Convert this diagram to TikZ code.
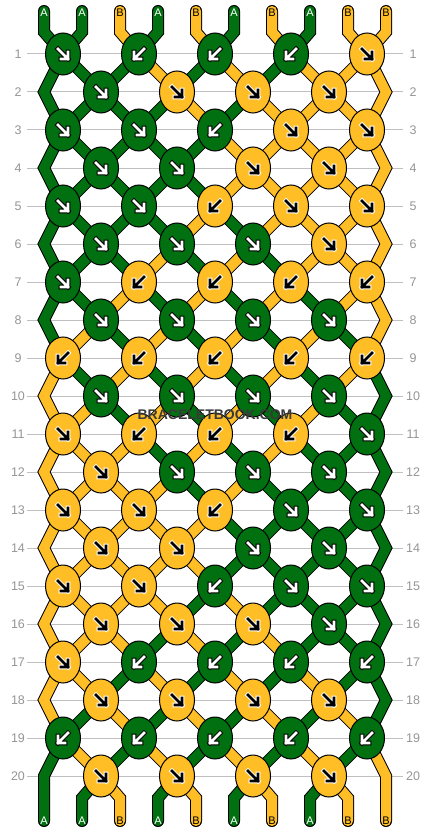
\documentclass[tikz,border=0pt]{standalone}
\usepackage{fontspec}
\setmainfont{Liberation Sans}
\usetikzlibrary{shapes.geometric}
\definecolor{kg}{RGB}{0,112,16}
\definecolor{ky}{RGB}{255,190,38}
\definecolor{numgray}{RGB}{150,150,150}
\definecolor{linegray}{RGB}{192,192,192}
\definecolor{wmgray}{RGB}{58,58,58}
\colorlet{afillg}{white}
\colorlet{aoutg}{black}
\colorlet{afilly}{black}
\colorlet{aouty}{white}
\colorlet{lblg}{white}
\colorlet{lbly}{black}
\pgfdeclarelayer{back}
\pgfdeclarelayer{mid}
\pgfsetlayers{back,mid,main}
\begin{document}
\begin{tikzpicture}[x=1pt,y=-1pt,
  strand/.style={line width=1pt, draw=black, double=#1, double distance=10pt, line join=miter, line cap=round},
  knot/.style={ellipse, draw=black, line width=1pt, fill=#1, minimum width=35pt, minimum height=42pt, inner sep=0pt},
  rowline/.style={draw=linegray, line width=1pt},
  rownum/.style={text=numgray, font=\fontsize{12.5}{14}\selectfont, inner sep=0pt},
  endlbl/.style={font=\fontsize{11}{12}\selectfont, inner sep=0pt},
  wmtext/.style={font=\fontsize{14}{16}\selectfont\bfseries, inner sep=0pt},
  karrow/.pic={
    \draw[line width=4.6pt, draw=aout#1, line cap=rect, line join=miter] (-5,-5) -- (5,5) (5,-2) -- (5,5) -- (-2,5);
    \draw[line width=2.6pt, draw=afill#1, line cap=rect, line join=miter] (-5,-5) -- (5,5) (5,-2) -- (5,5) -- (-2,5);
  }
]
\useasboundingbox (0,0) rectangle (430,832);
\begin{pgfonlayer}{back}
\fill[white] (0,0) rectangle (430,832);
\foreach \r in {1,...,20}{
  \pgfmathsetmacro\ly{54+38*(\r-1)}
  \draw[rowline] (27,\ly) -- (403,\ly);
  \node[rownum] (nl\r) at (18,\ly) {\r};
  \node[rownum] (nr\r) at (413,\ly) {\r};
}
\end{pgfonlayer}
% edge turning points
\foreach \r in {2,4,...,20}{
  \pgfmathsetmacro\ly{54+38*(\r-1)}
  \coordinate (L\r) at (44,\ly);
  \coordinate (R\r) at (386,\ly);
}
% knots
\foreach \r/\ks in {
 1/{1/g,-1/g,-1/g,-1/g,1/y},
 2/{1/g,1/y,1/y,1/y},
 3/{1/g,1/g,-1/g,1/y,1/y},
 4/{1/g,1/g,1/y,1/y},
 5/{1/g,1/g,-1/y,1/y,1/y},
 6/{1/g,1/g,1/g,1/y},
 7/{1/g,-1/y,-1/y,-1/y,-1/y},
 8/{1/g,1/g,1/g,1/g},
 9/{-1/y,-1/y,-1/y,-1/y,-1/y},
 10/{1/g,1/g,1/g,1/g},
 11/{1/y,-1/y,-1/y,-1/y,1/g},
 12/{1/y,1/g,1/g,1/g},
 13/{1/y,1/y,-1/y,1/g,1/g},
 14/{1/y,1/y,1/g,1/g},
 15/{1/y,1/y,-1/g,1/g,1/g},
 16/{1/y,1/y,1/y,1/g},
 17/{1/y,-1/g,-1/g,-1/g,-1/g},
 18/{1/y,1/y,1/y,1/y},
 19/{-1/g,-1/g,-1/g,-1/g,-1/g},
 20/{1/y,1/y,1/y,1/y}}{
  \pgfmathsetmacro\ky{54+38*(\r-1)}
  \foreach \d/\c [count=\k] in \ks {
    \ifodd\r\relax
      \pgfmathsetmacro\kx{63+76*(\k-1)}
    \else
      \pgfmathsetmacro\kx{101+76*(\k-1)}
    \fi
    \node[knot=k\c] (k\r-\k) at (\kx,\ky) {};
    \pic[xscale=\d] at (k\r-\k.center) {karrow=\c};
  }
}
% strand ends (top and bottom)
\foreach \c/\t [count=\p] in {g/A,g/A,y/B,g/A,y/B,g/A,y/B,g/A,y/B,y/B}{
  \pgfmathsetmacro\sx{44+38*(\p-1)}
  \pgfmathtruncatemacro\ko{(\p+1)/2}
  \pgfmathtruncatemacro\ke{\p/2}
  \coordinate (T\p) at (\sx,11);
  \coordinate (B\p) at (\sx,821);
  \begin{pgfonlayer}{mid}
    \draw[strand=k\c] (T\p) -- ++(0,21) -- (k1-\ko.center);
    \ifnum\p>1\relax\ifnum\p<10\relax
      \draw[strand=k\c] (k20-\ke.center) -- (\sx,798) -- (B\p);
    \fi\fi
  \end{pgfonlayer}
  \node[endlbl, text=lbl\c] (tl\p) at (\sx,12.5) {\t};
  \node[endlbl, text=lbl\c] (bl\p) at (\sx,820.5) {\t};
}
% strand segments between rows
\begin{pgfonlayer}{mid}
\foreach \r/\st in {
 1/{g,g,g,y,g,y,g,y,y,y},
 2/{g,g,g,g,y,g,y,y,y,y},
 3/{g,g,g,g,g,y,y,y,y,y},
 4/{g,g,g,g,g,y,y,y,y,y},
 5/{g,g,g,g,y,g,y,y,y,y},
 6/{g,g,g,y,g,y,g,y,y,y},
 7/{g,g,y,g,y,g,y,g,y,y},
 8/{g,y,g,y,g,y,g,y,g,y},
 9/{y,g,y,g,y,g,y,g,y,g},
 10/{y,y,g,y,g,y,g,y,g,g},
 11/{y,y,y,g,y,g,y,g,g,g},
 12/{y,y,y,y,g,y,g,g,g,g},
 13/{y,y,y,y,y,g,g,g,g,g},
 14/{y,y,y,y,y,g,g,g,g,g},
 15/{y,y,y,y,g,y,g,g,g,g},
 16/{y,y,y,g,y,g,y,g,g,g},
 17/{y,y,g,y,g,y,g,y,g,g},
 18/{y,g,y,g,y,g,y,g,y,g},
 19/{g,y,g,y,g,y,g,y,g,y}}{
  \pgfmathtruncatemacro\rn{\r+1}
  \pgfmathtruncatemacro\rnn{\r+2}
  \foreach \c [count=\p] in \st {
    \pgfmathtruncatemacro\ko{(\p+1)/2}
    \pgfmathtruncatemacro\ke{\p/2}
    \ifodd\r\relax
      \ifnum\p=1\relax
        \ifnum\r=19\relax
          \draw[strand=k\c] (k\r-1.center) -- (L\rn) -- (B1);
        \else
          \draw[strand=k\c] (k\r-1.center) -- (L\rn) -- (k\rnn-1.center);
        \fi
      \else
        \ifnum\p=10\relax
          \ifnum\r=19\relax
            \draw[strand=k\c] (k\r-5.center) -- (R\rn) -- (B10);
          \else
            \draw[strand=k\c] (k\r-5.center) -- (R\rn) -- (k\rnn-5.center);
          \fi
        \else
          \draw[strand=k\c] (k\r-\ko.center) -- (k\rn-\ke.center);
        \fi
      \fi
    \else
      \ifnum\p>1\relax\ifnum\p<10\relax
        \draw[strand=k\c] (k\r-\ke.center) -- (k\rn-\ko.center);
      \fi\fi
    \fi
  }
}
\end{pgfonlayer}
% watermark
\node[wmtext, text=wmgray] (wm) at (215,415) {BRACELETBOOK.COM};
\end{tikzpicture}
\end{document}
